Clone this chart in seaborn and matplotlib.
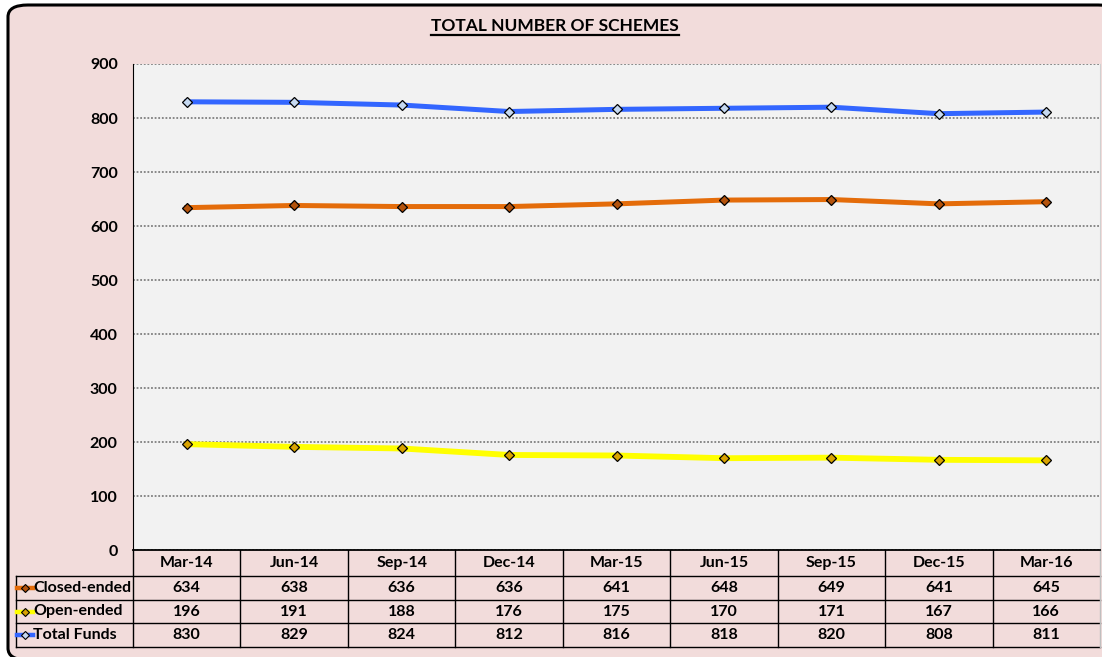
import pandas as pd
import seaborn as sns
import matplotlib.pyplot as plt
import matplotlib.transforms as mtransforms
from matplotlib.patches import FancyBboxPatch
from matplotlib.lines import Line2D

# Datos del gráfico
quarters = ["Mar-14", "Jun-14", "Sep-14", "Dec-14", "Mar-15",
            "Jun-15", "Sep-15", "Dec-15", "Mar-16"]
closed_ended = [634, 638, 636, 636, 641, 648, 649, 641, 645]
open_ended = [196, 191, 188, 176, 175, 170, 171, 167, 166]
total_funds = [830, 829, 824, 812, 816, 818, 820, 808, 811]
series_names = ["Closed-ended", "Open-ended", "Total Funds"]
y_ticks = list(range(0, 901, 100))

df = pd.DataFrame({
    "Quarter": quarters * 3,
    "Schemes": closed_ended + open_ended + total_funds,
    "Series": [s for s in series_names for _ in quarters],
})

plt.rcParams["font.family"] = ["Lato", "DejaVu Sans"]
plt.rcParams["font.weight"] = "bold"

PINK = "#F2DCDB"
styles = {
    "Closed-ended": dict(color="#E46C0A", markerfacecolor="#B4530C", linewidth=3.6),
    "Open-ended": dict(color="#FFFF00", markerfacecolor="#D9A300", linewidth=4.2),
    "Total Funds": dict(color="#3366FF", markerfacecolor="#C6D9F1", linewidth=3.6),
}

W, H = 1102, 657
fig = plt.figure(figsize=(W / 100, H / 100), dpi=100, facecolor="white")

# Marco redondeado de fondo
frame = FancyBboxPatch((8 / W, 1 - 660 / H), 1110 / W, 655 / H,
                       boxstyle="round,pad=0,rounding_size=0.018",
                       transform=fig.transFigure, facecolor=PINK,
                       edgecolor="black", linewidth=2.2, zorder=-5)
fig.patches.append(frame)

ax = fig.add_axes([133 / W, 1 - 550 / H, (1100 - 133) / W, (550 - 64) / H])
ax.set_facecolor("#F2F2F2")

for name in series_names:
    sns.lineplot(data=df[df["Series"] == name], x="Quarter", y="Schemes", ax=ax,
                 marker="D", markersize=5, markeredgecolor="black",
                 markeredgewidth=0.9, errorbar=None, legend=False,
                 **styles[name])

ax.set_xlim(-0.5, len(quarters) - 0.5)
ax.set_ylim(0, 900)
ax.set_yticks(y_ticks)
ax.set_xticks(range(len(quarters)))
ax.set_xticklabels([])
ax.set_xlabel("")
ax.set_ylabel("")
ax.tick_params(axis="y", length=0, pad=11, labelsize=11.5)
ax.tick_params(axis="x", length=0)
ax.grid(axis="y", color="#7F7F7F", linestyle=(0, (1, 1)), linewidth=1.3)
ax.grid(axis="x", visible=False)
ax.set_axisbelow(True)
ax.spines["top"].set_visible(False)
ax.spines["right"].set_color("#D0D0D0")
ax.spines["left"].set_color("black")
ax.spines["bottom"].set_color("black")
ax.spines["bottom"].set_linewidth(1.3)

# Tabla de datos debajo del gráfico
col_px = (1100 - 133) / len(quarters)
ax_h = 550 - 64


def px2x(px):
    return -0.5 + (px - 133) / col_px


def px2y(py):
    return (550 - py) / ax_h


blend = mtransforms.blended_transform_factory(ax.transData, ax.transAxes)
row_edges = [550, 576, 600, 623, 647]
left_x = px2x(16)
right_x = len(quarters) - 0.5

for py in row_edges[1:]:
    ax.add_line(Line2D([left_x, right_x], [px2y(py)] * 2, transform=blend,
                       color="black", lw=1, clip_on=False))
for k in range(len(quarters)):
    ax.add_line(Line2D([k - 0.5] * 2, [px2y(550), px2y(647)], transform=blend,
                       color="black", lw=1, clip_on=False))
ax.add_line(Line2D([right_x] * 2, [px2y(550), px2y(647)], transform=blend,
                   color="#BFBFBF", lw=1, clip_on=False))
ax.add_line(Line2D([left_x] * 2, [px2y(576), px2y(647)], transform=blend,
                   color="black", lw=1, clip_on=False))

def row_center(r):
    return px2y((row_edges[r] + row_edges[r + 1]) / 2)


for i, q in enumerate(quarters):
    ax.text(i, row_center(0), q, transform=blend, ha="center", va="center",
            fontsize=11.5, clip_on=False)

for r, (name, vals) in enumerate(zip(series_names,
                                     [closed_ended, open_ended, total_funds]), start=1):
    yc = row_center(r)
    for i, v in enumerate(vals):
        ax.text(i, yc, str(v), transform=blend, ha="center", va="center",
                fontsize=11.5, clip_on=False)
    st = styles[name]
    ax.add_line(Line2D([px2x(17), px2x(33)], [yc, yc], transform=blend,
                       color=st["color"], lw=3.2, clip_on=False))
    ax.add_line(Line2D([px2x(25)], [yc], transform=blend, marker="D",
                       markersize=4, markerfacecolor=st["markerfacecolor"],
                       markeredgecolor="black", markeredgewidth=0.8,
                       clip_on=False))
    ax.text(px2x(33), yc, name, transform=blend, ha="left", va="center",
            fontsize=11.5, clip_on=False)

# Título subrayado
title = fig.text(555 / W, 1 - 26 / H, "TOTAL NUMBER OF SCHEMES", ha="center",
                 va="center", fontsize=12.5, fontweight="bold")
fig.canvas.draw()
bb = title.get_window_extent(fig.canvas.get_renderer())
fig.add_artist(Line2D([bb.x0 / W, bb.x1 / W], [(bb.y0 - 1) / H] * 2,
                      transform=fig.transFigure, color="black", lw=1.6))

plt.savefig("out.png", dpi=100, facecolor=fig.get_facecolor())
plt.close()
